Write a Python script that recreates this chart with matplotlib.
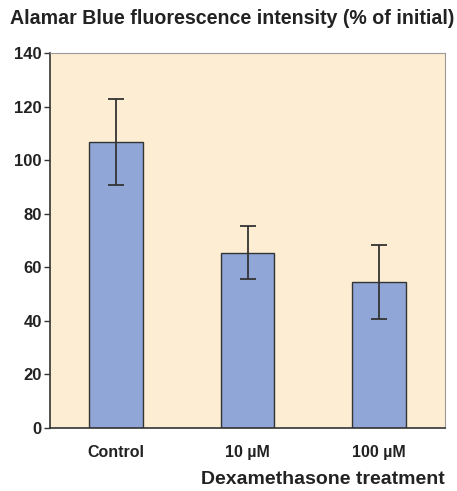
import matplotlib.pyplot as plt

categories = ['Control', '10 \u00b5M', '100 \u00b5M']
values = [106.8, 65.5, 54.5]
errors = [16.2, 9.8, 13.8]
yticks = [0, 20, 40, 60, 80, 100, 120, 140]

plt.rcParams['font.family'] = ['Liberation Sans', 'DejaVu Sans']

fig = plt.figure(figsize=(4.57, 4.91), dpi=100)
ax = fig.add_axes([50/457, 1 - 428/491, 395/457, 375/491])
ax.set_facecolor('#fdeed3')

x = range(len(categories))
ax.bar(x, values, width=0.41, color='#8fa6d6', edgecolor='#333333', linewidth=1.0, zorder=2)
ax.errorbar(x, values, yerr=errors, fmt='none', ecolor='#333333', elinewidth=1.3,
            capsize=6, capthick=1.3, zorder=3)

ax.set_xlim(-0.5, 2.5)
ax.set_ylim(0, 140)
ax.set_yticks(yticks)
ax.set_xticks(list(x))
ax.set_xticklabels(categories)
ax.tick_params(axis='y', length=4, width=1, color='#333333', labelsize=12, pad=2)
ax.tick_params(axis='x', length=0, labelsize=11.5, pad=12)
for lab in ax.get_xticklabels() + ax.get_yticklabels():
    lab.set_color('#222222')
    lab.set_fontweight('bold')

for s in ['top', 'right']:
    ax.spines[s].set_color('#999999')
    ax.spines[s].set_linewidth(0.8)
for s in ['left', 'bottom']:
    ax.spines[s].set_color('#333333')
    ax.spines[s].set_linewidth(1.2)

fig.text(10/457, 1 - 18/491, 'Alamar Blue fluorescence intensity (% of initial)',
         fontsize=14.1, fontweight='bold', color='#222222', va='center', ha='left')
fig.text(445/457, 1 - 480/491, 'Dexamethasone treatment',
         fontsize=14, fontweight='bold', color='#222222', va='center', ha='right')

fig.savefig('out.png', dpi=100)
